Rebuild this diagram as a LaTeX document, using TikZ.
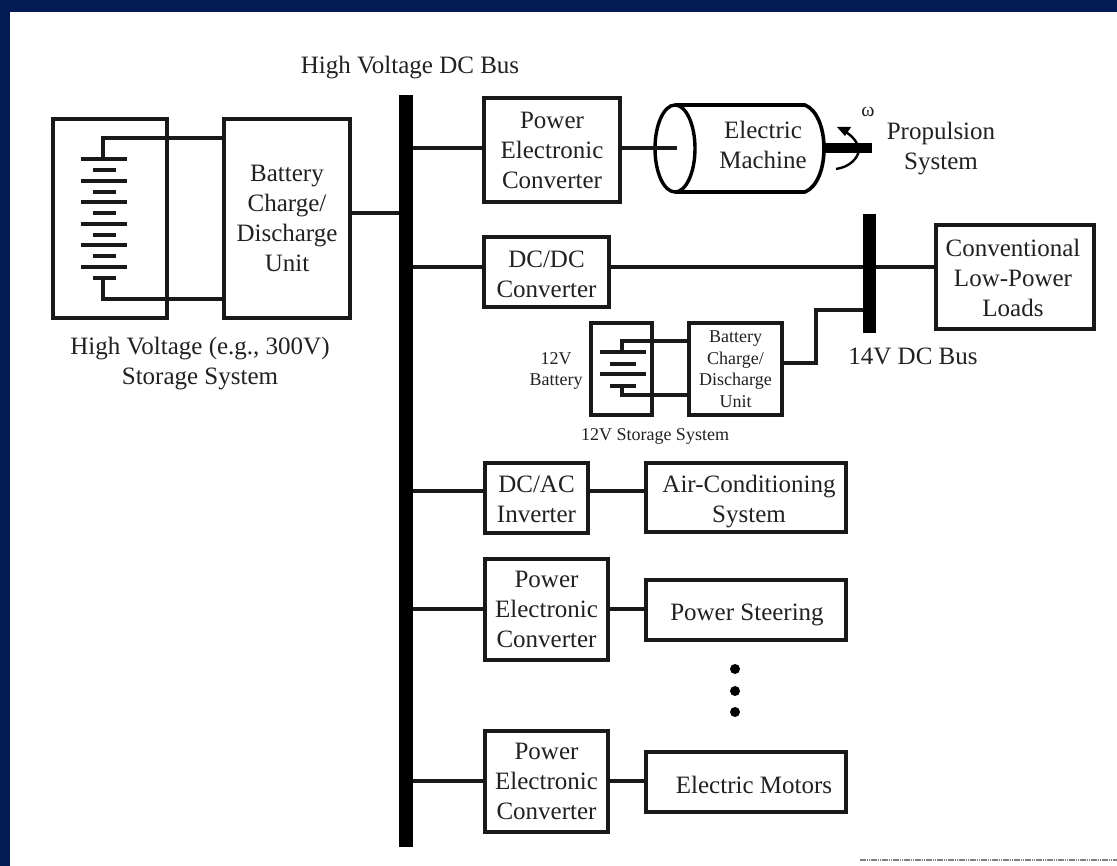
\documentclass[tikz,border=0pt]{standalone}
\usepackage{fontspec}
\setmainfont{Liberation Serif}
\usetikzlibrary{calc}
\definecolor{navy}{HTML}{041A52}
\definecolor{ink}{gray}{0.13}
\tikzset{
  big/.style={font=\fontsize{25}{30}\selectfont,text=ink,align=center},
  small/.style={font=\fontsize{18}{21.5}\selectfont,text=ink,align=center},
  boxa/.style={draw=black!90,line width=4pt,fill=white,inner sep=0pt,outer sep=0pt,big},
  boxb/.style={boxa,small},
  wire/.style={draw=black!90,line width=3.4pt},
  plate/.style={draw=black!90,line width=3.4pt},
  busbar/.style={fill=black,inner sep=0pt,outer sep=0pt},
  dotn/.style={circle,fill=black,inner sep=0pt,minimum size=10pt}
}
\begin{document}
\begin{tikzpicture}[x=1pt,y=-1pt]
\useasboundingbox (0,0) rectangle (1117,866);
\fill[navy] (0,0) rectangle (1117,866);
\fill[white] (10,12) rectangle (1117,866);
\draw[gray,line width=2.5pt,dash pattern=on 1.5pt off .7pt] (860,860) -- (1117,860);

% buses
\node[busbar,minimum width=14pt,minimum height=752pt] (bus) at (406,471) {};
\node[busbar,minimum width=13pt,minimum height=119pt] (busb) at (869.5,273.5) {};

% boxes
\node[boxa,minimum width=114pt,minimum height=199pt] (store) at (109.5,218.5) {};
\node[boxa,minimum width=126pt,minimum height=199pt] (charge) at (287,218.5) {Battery\\Charge/\\Discharge\\Unit};
\node[boxa,minimum width=136pt,minimum height=104pt] (conva) at (552,150) {Power\\Electronic\\Converter};
\node[boxa,minimum width=125pt,minimum height=70pt] (dcdc) at (546.5,272) {};
\node[big] (dcdclab) at (546.5,274) {DC/DC\\Converter};
\node[boxa,minimum width=158pt,minimum height=104pt] (loads) at (1015,277) {};
\node[big] (loadslab) at (1013,278) {Conventional\\Low-Power\\Loads};
\node[boxb,minimum width=61pt,minimum height=92pt] (storeb) at (621.5,369) {};
\node[boxb,minimum width=93pt,minimum height=92pt] (chargeb) at (735.5,369) {Battery\\Charge/\\Discharge\\Unit};
\node[boxa,minimum width=103pt,minimum height=70pt] (dcac) at (536.5,498) {};
\node[big] (dcaclab) at (536.5,499) {DC/AC\\Inverter};
\node[boxa,minimum width=200pt,minimum height=69pt] (air) at (746,497.5) {};
\node[big] (airlab) at (749,501.5) {Air-Conditioning\\System};
\node[boxa,minimum width=123pt,minimum height=101pt] (convb) at (546.5,609.5) {Power\\Electronic\\Converter};
\node[boxa,minimum width=200pt,minimum height=60pt] (steer) at (746,610) {};
\node[big] (steerlab) at (747,615) {Power Steering};
\node[boxa,minimum width=123pt,minimum height=101pt] (convc) at (546.5,781.5) {Power\\Electronic\\Converter};
\node[boxa,minimum width=200pt,minimum height=60pt] (motors) at (746,782) {};
\node[big] (motorslab) at (754,785) {Electric Motors};

% battery, high voltage
\coordinate (hvtop) at (103,138);
\coordinate (hvbot) at (103,299);
\draw[wire] (charge.west |- hvtop) -- (hvtop) -- (103,159);
\draw[wire] (charge.west |- hvbot) -- (hvbot) -- (103,278);
\foreach \y in {159,181,202,224,245,267} \draw[plate] (81,\y) -- (127,\y);
\foreach \y in {170,192,213,235,256,278} \draw[plate] (93,\y) -- (116,\y);

% battery, 12 V
\coordinate (lvtop) at (622,341);
\coordinate (lvbot) at (622,395);
\draw[wire] (chargeb.west |- lvtop) -- (lvtop) -- (622,352);
\draw[wire] (chargeb.west |- lvbot) -- (lvbot) -- (622,386);
\foreach \y in {352,374} \draw[plate] (600,\y) -- (646,\y);
\foreach \y in {364,386} \draw[plate] (610,\y) -- (636,\y);

% connectors
\draw[wire] (charge.east |- 0,213) -- (bus.west |- 0,213);
\draw[wire] (bus.east |- 0,148) -- (conva.west |- 0,148);
\draw[wire] (bus.east |- 0,267) -- (dcdc.west |- 0,267);
\draw[wire] (dcdc.east |- 0,267) -- (busb.west |- 0,267);
\draw[wire] (busb.east |- 0,267) -- (loads.west |- 0,267);
\draw[wire] (chargeb.east |- 0,363) -- (816,363) -- (816,310) -- (busb.west |- 0,310);
\draw[wire] (bus.east |- 0,491) -- (dcac.west |- 0,491);
\draw[wire] (dcac.east |- 0,491) -- (air.west |- 0,491);
\draw[wire] (bus.east |- 0,609) -- (convb.west |- 0,609);
\draw[wire] (convb.east |- 0,609) -- (steer.west |- 0,609);
\draw[wire] (bus.east |- 0,781) -- (convc.west |- 0,781);
\draw[wire] (convc.east |- 0,781) -- (motors.west |- 0,781);

% electric machine
\draw[black,line width=3.6pt,line join=round] (675,105) -- (805,105)
  .. controls (817,110) and (824,128) .. (824,148.5)
  .. controls (824,169) and (817,187) .. (805,192) -- (675,192);
\draw[black,line width=3.4pt] (675,148.5) ellipse [x radius=20,y radius=43.5];
\coordinate (mach) at (677,148);
\draw[wire] (conva.east |- mach) -- (mach);
\node[big] (machlab) at (763,145) {Electric\\Machine};
\draw[black,line width=10pt] (824,148.5) -- (872,148.5);
\draw[black,line width=2.4pt] (842,130) .. controls (851,134) and (858,142) .. (859,150)
  .. controls (858,158) and (850,167) .. (836,169);
\fill[black] (837,127) -- (851,127) -- (845,136) -- cycle;
\node[font=\fontsize{20}{20}\selectfont,text=ink,inner sep=0pt] (om) at (868,112) {ω};
\node[big] (prop) at (941,149) {Propulsion\\System};

% text labels
\node[big] (hvbus) at (410,68) {High Voltage DC Bus};
\node[big] (hvlab) at (200,363.5) {High Voltage (e.g., 300V)\\Storage System};
\node[big] (lvbus) at (913,356) {14V DC Bus};
\node[small] (batlab) at (556,371) {12V\\Battery};
\node[small] (lvlab) at (655,436) {12V Storage System};

% ellipsis dots
\node[dotn] (da) at (735,669) {};
\node[dotn] (db) at (735,691) {};
\node[dotn] (dc) at (735,712) {};
\end{tikzpicture}
\end{document}
